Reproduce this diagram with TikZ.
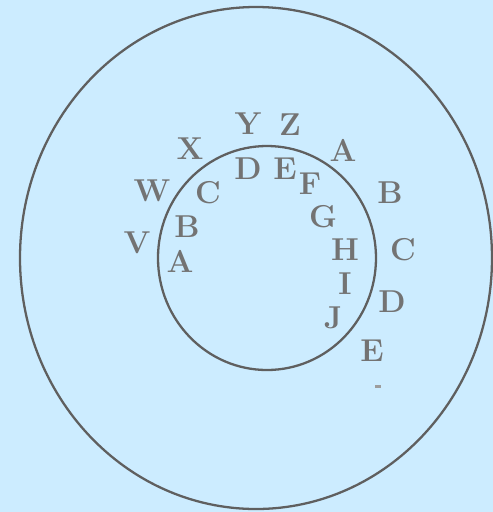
\documentclass[tikz,border=0pt]{standalone}
\definecolor{bgblue}{RGB}{204,236,255}
\definecolor{inkgray}{RGB}{95,95,95}
\definecolor{lettergray}{RGB}{115,115,115}
\begin{document}
\begin{tikzpicture}[x=0.02cm, y=-0.02cm,
  ring/.style={draw=inkgray, line width=1.3pt},
  letter/.style={text=lettergray, inner sep=0pt,
                 font=\fontsize{18}{18}\selectfont\bfseries},
]
  \fill[bgblue] (0,0) rectangle (493,512);
  \useasboundingbox (0,0) rectangle (493,512);

  % the two rings
  \draw[ring] (256,258) ellipse [x radius=236, y radius=251];
  \draw[ring] (267,258) ellipse [x radius=109, y radius=112];

  % outer letters
  \foreach \n/\t/\x/\y in {oV/V/137/243, oW/W/152/191, oX/X/190/149,
      oY/Y/248/124, oZ/Z/290/125, oA/A/343/150, oB/B/390/193,
      oC/C/403/250, oD/D/392/302, oE/E/372/351}
    \node[letter] (\n) at (\x,\y) {\t};

  % inner letters
  \foreach \n/\t/\x/\y in {iA/A/180/261, iB/B/187/227, iC/C/208/193,
      iD/D/248/169, iE/E/285/169, iF/F/310/184, iG/G/323/217,
      iH/H/345/250, iI/I/345/284, iJ/J/333/318}
    \node[letter] (\n) at (\x,\y) {\t};

  % small mark below E
  \fill[lettergray!70] (375,385) rectangle (381,388);
\end{tikzpicture}
\end{document}
